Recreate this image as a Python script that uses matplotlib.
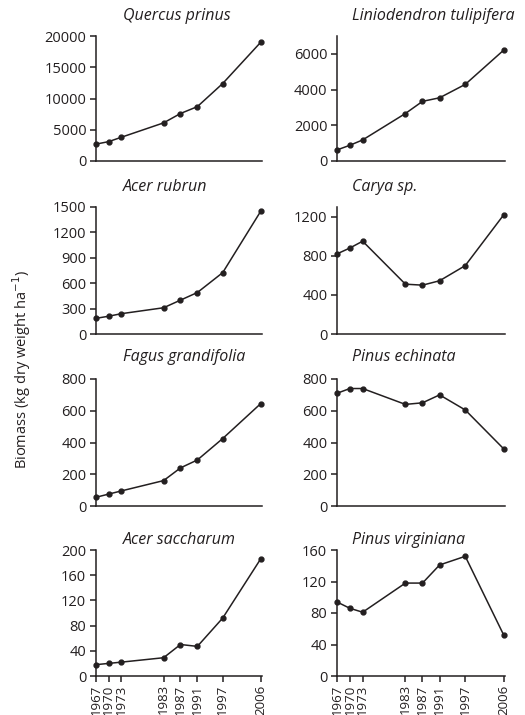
import matplotlib.pyplot as plt

plt.rcParams['font.family'] = ['Open Sans', 'DejaVu Sans']

years = [1967, 1970, 1973, 1983, 1987, 1991, 1997, 2006]

species = ["Quercus prinus", "Liniodendron tulipifera", "Acer rubrun", "Carya sp.",
           "Fagus grandifolia", "Pinus echinata", "Acer saccharum", "Pinus virginiana"]

quercus = [2700, 3100, 3800, 6100, 7600, 8700, 12400, 19000]
liriodendron = [620, 880, 1180, 2660, 3340, 3540, 4290, 6210]
acer_rubrun = [185, 210, 240, 310, 400, 490, 725, 1450]
carya = [820, 880, 950, 510, 500, 545, 700, 1220]
fagus = [55, 75, 95, 160, 240, 290, 425, 645]
pinus_ech = [710, 740, 740, 640, 650, 700, 605, 360]
acer_sacch = [18, 20, 22, 29, 50, 47, 92, 186]
pinus_virg = [94, 86, 81, 118, 118, 141, 152, 52]

values = [quercus, liriodendron, acer_rubrun, carya, fagus, pinus_ech, acer_sacch, pinus_virg]
ylims = [20000, 7000, 1500, 1300, 800, 800, 200, 160]
yticks = [range(0, 20001, 5000), range(0, 6001, 2000), range(0, 1501, 300), range(0, 1201, 400),
          range(0, 801, 200), range(0, 801, 200), range(0, 201, 40), range(0, 161, 40)]

W, H = 525, 715
ink = '#231f20'
fig = plt.figure(figsize=(W / 100, H / 100), dpi=100)

cols = [(96, 262), (337, 505)]
rows = [(36, 161), (207, 334), (379, 506), (550, 676)]
title_y = [16, 187, 357, 540]
title_x = [123, 352]

for i, name in enumerate(species):
    r, c = divmod(i, 2)
    l, rt = cols[c]
    t, b = rows[r]
    ax = fig.add_axes([l / W, 1 - b / H, (rt - l) / W, (b - t) / H])
    ax.plot(years, values[i], color=ink, lw=1.1, marker='o', ms=3.5, clip_on=False)
    ax.set_xlim(1967, 2006.3)
    ax.set_ylim(0, ylims[i])
    ax.set_yticks(list(yticks[i]))
    for s in ['top', 'right']:
        ax.spines[s].set_visible(False)
    for s in ['left', 'bottom']:
        ax.spines[s].set_color(ink)
        ax.spines[s].set_linewidth(1.1)
    ax.tick_params(axis='y', length=4, width=1.1, color=ink, labelsize=10.5, labelcolor=ink, pad=3)
    if r == 3:
        ax.set_xticks(years)
        ax.set_xticklabels([str(y) for y in years], rotation=90)
        ax.tick_params(axis='x', length=4, width=1.1, color=ink, labelsize=9.5, labelcolor=ink, pad=2)
    else:
        ax.set_xticks([])
    fig.text(title_x[c] / W, 1 - title_y[r] / H, name, style='italic', fontsize=11.5,
             color=ink, ha='left', va='center')

fig.text(22 / W, 1 - 370 / H, 'Biomass (kg dry weight ha$^{-1}$)', rotation=90,
         fontsize=10.5, color=ink, ha='center', va='center')

fig.savefig('out.png', dpi=100)
